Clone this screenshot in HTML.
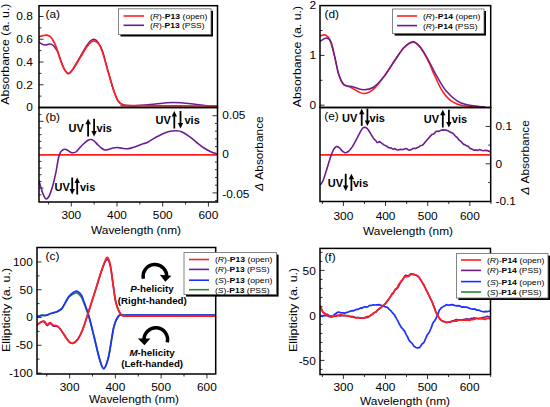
<!DOCTYPE html>
<html><head><meta charset="utf-8"><style>
html,body{margin:0;padding:0;background:#fff;width:550px;height:407px;overflow:hidden}
svg{display:block;font-family:"Liberation Sans",sans-serif}
</style></head><body>
<svg width="550" height="407" viewBox="0 0 550 407">
<defs>
<clipPath id="ca"><rect x="39" y="5.7" width="178.5" height="101.8"/></clipPath>
<clipPath id="cb"><rect x="39" y="107.5" width="178.5" height="94.5"/></clipPath>
<clipPath id="cc"><rect x="37" y="247.5" width="178.7" height="126.5"/></clipPath>
<clipPath id="cd"><rect x="320" y="5.6" width="170.7" height="101.9"/></clipPath>
<clipPath id="ce"><rect x="320" y="107.5" width="170.7" height="94.0"/></clipPath>
<clipPath id="cf"><rect x="320" y="248.4" width="170.5" height="126.1"/></clipPath>
</defs>
<rect width="550" height="407" fill="#fff"/>
<line x1="39" y1="107.5" x2="43.5" y2="107.5" stroke="#333" stroke-width="1.0"/>
<line x1="39" y1="96.125" x2="41.5" y2="96.125" stroke="#333" stroke-width="1.0"/>
<line x1="39" y1="84.75" x2="43.5" y2="84.75" stroke="#333" stroke-width="1.0"/>
<line x1="39" y1="73.375" x2="41.5" y2="73.375" stroke="#333" stroke-width="1.0"/>
<line x1="39" y1="62.0" x2="43.5" y2="62.0" stroke="#333" stroke-width="1.0"/>
<line x1="39" y1="50.625" x2="41.5" y2="50.625" stroke="#333" stroke-width="1.0"/>
<line x1="39" y1="39.25" x2="43.5" y2="39.25" stroke="#333" stroke-width="1.0"/>
<line x1="39" y1="27.875" x2="41.5" y2="27.875" stroke="#333" stroke-width="1.0"/>
<line x1="39" y1="16.5" x2="43.5" y2="16.5" stroke="#333" stroke-width="1.0"/>
<text transform="translate(32.8,111.3) scale(1.1,1)" font-size="10.8" text-anchor="end" font-weight="normal" fill="#000" >0</text>
<text transform="translate(32.8,88.55) scale(1.1,1)" font-size="10.8" text-anchor="end" font-weight="normal" fill="#000" >0.2</text>
<text transform="translate(32.8,65.8) scale(1.1,1)" font-size="10.8" text-anchor="end" font-weight="normal" fill="#000" >0.4</text>
<text transform="translate(32.8,43.05) scale(1.1,1)" font-size="10.8" text-anchor="end" font-weight="normal" fill="#000" >0.6</text>
<text transform="translate(32.8,20.3) scale(1.1,1)" font-size="10.8" text-anchor="end" font-weight="normal" fill="#000" >0.8</text>
<text transform="translate(9,54.2) rotate(-90) scale(1.14,1)" font-size="10.8" text-anchor="middle" font-weight="normal" fill="#000" >Absorbance (a. u.)</text>
<text transform="translate(45.5,17.8) scale(1.1,1)" font-size="10.8" text-anchor="start" font-weight="normal" fill="#000" >(a)</text>
<line x1="39" y1="194.77999999999997" x2="41.5" y2="194.77999999999997" stroke="#333" stroke-width="1.0"/>
<line x1="39" y1="188.1" x2="43.5" y2="188.1" stroke="#333" stroke-width="1.0"/>
<line x1="39" y1="181.42" x2="41.5" y2="181.42" stroke="#333" stroke-width="1.0"/>
<line x1="39" y1="174.73999999999998" x2="41.5" y2="174.73999999999998" stroke="#333" stroke-width="1.0"/>
<line x1="39" y1="168.06" x2="41.5" y2="168.06" stroke="#333" stroke-width="1.0"/>
<line x1="39" y1="161.38" x2="41.5" y2="161.38" stroke="#333" stroke-width="1.0"/>
<line x1="39" y1="154.7" x2="43.5" y2="154.7" stroke="#333" stroke-width="1.0"/>
<line x1="39" y1="148.01999999999998" x2="41.5" y2="148.01999999999998" stroke="#333" stroke-width="1.0"/>
<line x1="39" y1="141.33999999999997" x2="41.5" y2="141.33999999999997" stroke="#333" stroke-width="1.0"/>
<line x1="39" y1="134.66" x2="41.5" y2="134.66" stroke="#333" stroke-width="1.0"/>
<line x1="39" y1="127.97999999999999" x2="41.5" y2="127.97999999999999" stroke="#333" stroke-width="1.0"/>
<line x1="39" y1="121.29999999999998" x2="43.5" y2="121.29999999999998" stroke="#333" stroke-width="1.0"/>
<line x1="39" y1="114.61999999999999" x2="41.5" y2="114.61999999999999" stroke="#333" stroke-width="1.0"/>
<line x1="217.5" y1="200.62" x2="215.0" y2="200.62" stroke="#333" stroke-width="1.0"/>
<line x1="217.5" y1="192.9" x2="212.5" y2="192.9" stroke="#333" stroke-width="1.0"/>
<line x1="217.5" y1="185.18" x2="215.0" y2="185.18" stroke="#333" stroke-width="1.0"/>
<line x1="217.5" y1="177.46" x2="215.0" y2="177.46" stroke="#333" stroke-width="1.0"/>
<line x1="217.5" y1="169.74" x2="215.0" y2="169.74" stroke="#333" stroke-width="1.0"/>
<line x1="217.5" y1="162.02" x2="215.0" y2="162.02" stroke="#333" stroke-width="1.0"/>
<line x1="217.5" y1="154.3" x2="212.5" y2="154.3" stroke="#333" stroke-width="1.0"/>
<line x1="217.5" y1="146.58" x2="215.0" y2="146.58" stroke="#333" stroke-width="1.0"/>
<line x1="217.5" y1="138.86" x2="215.0" y2="138.86" stroke="#333" stroke-width="1.0"/>
<line x1="217.5" y1="131.14000000000001" x2="215.0" y2="131.14000000000001" stroke="#333" stroke-width="1.0"/>
<line x1="217.5" y1="123.42000000000002" x2="215.0" y2="123.42000000000002" stroke="#333" stroke-width="1.0"/>
<line x1="217.5" y1="115.70000000000002" x2="212.5" y2="115.70000000000002" stroke="#333" stroke-width="1.0"/>
<text transform="translate(222.3,119.2) scale(1.1,1)" font-size="10.8" text-anchor="start" font-weight="normal" fill="#000" >0.05</text>
<text transform="translate(222.3,158.0) scale(1.1,1)" font-size="10.8" text-anchor="start" font-weight="normal" fill="#000" >0</text>
<text transform="translate(222.3,197.6) scale(1.1,1)" font-size="10.8" text-anchor="start" font-weight="normal" fill="#000" >-0.05</text>
<line x1="48.449999999999996" y1="202" x2="48.449999999999996" y2="204.5" stroke="#333" stroke-width="1.0"/>
<line x1="71.3" y1="202" x2="71.3" y2="206.5" stroke="#333" stroke-width="1.0"/>
<line x1="94.15" y1="202" x2="94.15" y2="204.5" stroke="#333" stroke-width="1.0"/>
<line x1="117.0" y1="202" x2="117.0" y2="206.5" stroke="#333" stroke-width="1.0"/>
<line x1="139.85" y1="202" x2="139.85" y2="204.5" stroke="#333" stroke-width="1.0"/>
<line x1="162.7" y1="202" x2="162.7" y2="206.5" stroke="#333" stroke-width="1.0"/>
<line x1="185.55" y1="202" x2="185.55" y2="204.5" stroke="#333" stroke-width="1.0"/>
<line x1="208.39999999999998" y1="202" x2="208.39999999999998" y2="206.5" stroke="#333" stroke-width="1.0"/>
<text transform="translate(71.3,219.2) scale(1.1,1)" font-size="10.8" text-anchor="middle" font-weight="normal" fill="#000" >300</text>
<text transform="translate(117.0,219.2) scale(1.1,1)" font-size="10.8" text-anchor="middle" font-weight="normal" fill="#000" >400</text>
<text transform="translate(162.7,219.2) scale(1.1,1)" font-size="10.8" text-anchor="middle" font-weight="normal" fill="#000" >500</text>
<text transform="translate(208.39999999999998,219.2) scale(1.1,1)" font-size="10.8" text-anchor="middle" font-weight="normal" fill="#000" >600</text>
<text transform="translate(136,233.5) scale(1.1,1)" font-size="10.8" text-anchor="middle" font-weight="normal" fill="#000" >Wavelength (nm)</text>
<text transform="translate(263.0,153.6) rotate(-90) scale(1.1,1)" font-size="10.8" text-anchor="middle" font-weight="normal" fill="#000" ><tspan font-style="italic">Δ</tspan> Absorbance</text>
<text transform="translate(45.5,120.8) scale(1.1,1)" font-size="10.8" text-anchor="start" font-weight="normal" fill="#000" >(b)</text>
<line x1="37" y1="373.05" x2="41.5" y2="373.05" stroke="#333" stroke-width="1.0"/>
<line x1="37" y1="359.1625" x2="39.5" y2="359.1625" stroke="#333" stroke-width="1.0"/>
<line x1="37" y1="345.275" x2="41.5" y2="345.275" stroke="#333" stroke-width="1.0"/>
<line x1="37" y1="331.3875" x2="39.5" y2="331.3875" stroke="#333" stroke-width="1.0"/>
<line x1="37" y1="317.5" x2="41.5" y2="317.5" stroke="#333" stroke-width="1.0"/>
<line x1="37" y1="303.6125" x2="39.5" y2="303.6125" stroke="#333" stroke-width="1.0"/>
<line x1="37" y1="289.725" x2="41.5" y2="289.725" stroke="#333" stroke-width="1.0"/>
<line x1="37" y1="275.8375" x2="39.5" y2="275.8375" stroke="#333" stroke-width="1.0"/>
<line x1="37" y1="261.95" x2="41.5" y2="261.95" stroke="#333" stroke-width="1.0"/>
<text transform="translate(32.8,265.75) scale(1.1,1)" font-size="10.8" text-anchor="end" font-weight="normal" fill="#000" >100</text>
<text transform="translate(32.8,293.52500000000003) scale(1.1,1)" font-size="10.8" text-anchor="end" font-weight="normal" fill="#000" >50</text>
<text transform="translate(32.8,321.3) scale(1.1,1)" font-size="10.8" text-anchor="end" font-weight="normal" fill="#000" >0</text>
<text transform="translate(32.8,349.075) scale(1.1,1)" font-size="10.8" text-anchor="end" font-weight="normal" fill="#000" >-50</text>
<text transform="translate(32.8,376.85) scale(1.1,1)" font-size="10.8" text-anchor="end" font-weight="normal" fill="#000" >-100</text>
<line x1="46.714999999999996" y1="374" x2="46.714999999999996" y2="376.5" stroke="#333" stroke-width="1.0"/>
<line x1="69.6" y1="374" x2="69.6" y2="378.5" stroke="#333" stroke-width="1.0"/>
<line x1="92.48499999999999" y1="374" x2="92.48499999999999" y2="376.5" stroke="#333" stroke-width="1.0"/>
<line x1="115.36999999999999" y1="374" x2="115.36999999999999" y2="378.5" stroke="#333" stroke-width="1.0"/>
<line x1="138.255" y1="374" x2="138.255" y2="376.5" stroke="#333" stroke-width="1.0"/>
<line x1="161.14" y1="374" x2="161.14" y2="378.5" stroke="#333" stroke-width="1.0"/>
<line x1="184.02499999999998" y1="374" x2="184.02499999999998" y2="376.5" stroke="#333" stroke-width="1.0"/>
<line x1="206.91" y1="374" x2="206.91" y2="378.5" stroke="#333" stroke-width="1.0"/>
<text transform="translate(69.6,391.3) scale(1.1,1)" font-size="10.8" text-anchor="middle" font-weight="normal" fill="#000" >300</text>
<text transform="translate(115.36999999999999,391.3) scale(1.1,1)" font-size="10.8" text-anchor="middle" font-weight="normal" fill="#000" >400</text>
<text transform="translate(161.14,391.3) scale(1.1,1)" font-size="10.8" text-anchor="middle" font-weight="normal" fill="#000" >500</text>
<text transform="translate(206.91,391.3) scale(1.1,1)" font-size="10.8" text-anchor="middle" font-weight="normal" fill="#000" >600</text>
<text transform="translate(134,403) scale(1.1,1)" font-size="10.8" text-anchor="middle" font-weight="normal" fill="#000" >Wavelength (nm)</text>
<text transform="translate(10.2,310.0) rotate(-90) scale(1.15,1)" font-size="10.8" text-anchor="middle" font-weight="normal" fill="#000" >Ellipticity (a. u.)</text>
<text transform="translate(45.5,260.3) scale(1.1,1)" font-size="10.8" text-anchor="start" font-weight="normal" fill="#000" >(c)</text>
<line x1="320" y1="105.2" x2="324.5" y2="105.2" stroke="#333" stroke-width="1.0"/>
<line x1="320" y1="80.30000000000001" x2="322.5" y2="80.30000000000001" stroke="#333" stroke-width="1.0"/>
<line x1="320" y1="55.400000000000006" x2="324.5" y2="55.400000000000006" stroke="#333" stroke-width="1.0"/>
<line x1="320" y1="30.500000000000014" x2="322.5" y2="30.500000000000014" stroke="#333" stroke-width="1.0"/>
<text transform="translate(316,109.0) scale(1.1,1)" font-size="10.8" text-anchor="end" font-weight="normal" fill="#000" >0</text>
<text transform="translate(316,59.2) scale(1.1,1)" font-size="10.8" text-anchor="end" font-weight="normal" fill="#000" >1</text>
<text transform="translate(316,8.90000000000001) scale(1.1,1)" font-size="10.8" text-anchor="end" font-weight="normal" fill="#000" >2</text>
<text transform="translate(301,56.6) rotate(-90) scale(1.14,1)" font-size="10.8" text-anchor="middle" font-weight="normal" fill="#000" >Absorbance (a. u.)</text>
<text transform="translate(324.5,18) scale(1.1,1)" font-size="10.8" text-anchor="start" font-weight="normal" fill="#000" >(d)</text>
<line x1="490.7" y1="182.47500000000002" x2="488.2" y2="182.47500000000002" stroke="#333" stroke-width="1.0"/>
<line x1="490.7" y1="163.8" x2="485.7" y2="163.8" stroke="#333" stroke-width="1.0"/>
<line x1="490.7" y1="145.125" x2="488.2" y2="145.125" stroke="#333" stroke-width="1.0"/>
<line x1="490.7" y1="126.45000000000002" x2="485.7" y2="126.45000000000002" stroke="#333" stroke-width="1.0"/>
<text transform="translate(495.5,130.25000000000003) scale(1.1,1)" font-size="10.8" text-anchor="start" font-weight="normal" fill="#000" >0.1</text>
<text transform="translate(495.5,167.60000000000002) scale(1.1,1)" font-size="10.8" text-anchor="start" font-weight="normal" fill="#000" >0</text>
<text transform="translate(495.5,204.95000000000002) scale(1.1,1)" font-size="10.8" text-anchor="start" font-weight="normal" fill="#000" >-0.1</text>
<line x1="322.325" y1="201.5" x2="322.325" y2="204.0" stroke="#333" stroke-width="1.0"/>
<line x1="343.4" y1="201.5" x2="343.4" y2="206.0" stroke="#333" stroke-width="1.0"/>
<line x1="364.47499999999997" y1="201.5" x2="364.47499999999997" y2="204.0" stroke="#333" stroke-width="1.0"/>
<line x1="385.54999999999995" y1="201.5" x2="385.54999999999995" y2="206.0" stroke="#333" stroke-width="1.0"/>
<line x1="406.625" y1="201.5" x2="406.625" y2="204.0" stroke="#333" stroke-width="1.0"/>
<line x1="427.7" y1="201.5" x2="427.7" y2="206.0" stroke="#333" stroke-width="1.0"/>
<line x1="448.775" y1="201.5" x2="448.775" y2="204.0" stroke="#333" stroke-width="1.0"/>
<line x1="469.84999999999997" y1="201.5" x2="469.84999999999997" y2="206.0" stroke="#333" stroke-width="1.0"/>
<line x1="490.92499999999995" y1="201.5" x2="490.92499999999995" y2="204.0" stroke="#333" stroke-width="1.0"/>
<text transform="translate(343.4,219.8) scale(1.1,1)" font-size="10.8" text-anchor="middle" font-weight="normal" fill="#000" >300</text>
<text transform="translate(385.54999999999995,219.8) scale(1.1,1)" font-size="10.8" text-anchor="middle" font-weight="normal" fill="#000" >400</text>
<text transform="translate(427.7,219.8) scale(1.1,1)" font-size="10.8" text-anchor="middle" font-weight="normal" fill="#000" >500</text>
<text transform="translate(469.84999999999997,219.8) scale(1.1,1)" font-size="10.8" text-anchor="middle" font-weight="normal" fill="#000" >600</text>
<text transform="translate(408,234.5) scale(1.1,1)" font-size="10.8" text-anchor="middle" font-weight="normal" fill="#000" >Wavelength (nm)</text>
<text transform="translate(529.2,157.5) rotate(-90) scale(1.1,1)" font-size="10.8" text-anchor="middle" font-weight="normal" fill="#000" ><tspan font-style="italic">Δ</tspan> Absorbance</text>
<text transform="translate(324.3,120.3) scale(1.1,1)" font-size="10.8" text-anchor="start" font-weight="normal" fill="#000" >(e)</text>
<line x1="320" y1="369.4" x2="322.5" y2="369.4" stroke="#333" stroke-width="1.0"/>
<line x1="320" y1="360.4" x2="324.5" y2="360.4" stroke="#333" stroke-width="1.0"/>
<line x1="320" y1="351.4" x2="322.5" y2="351.4" stroke="#333" stroke-width="1.0"/>
<line x1="320" y1="342.4" x2="322.5" y2="342.4" stroke="#333" stroke-width="1.0"/>
<line x1="320" y1="333.4" x2="322.5" y2="333.4" stroke="#333" stroke-width="1.0"/>
<line x1="320" y1="324.4" x2="322.5" y2="324.4" stroke="#333" stroke-width="1.0"/>
<line x1="320" y1="315.4" x2="324.5" y2="315.4" stroke="#333" stroke-width="1.0"/>
<line x1="320" y1="306.4" x2="322.5" y2="306.4" stroke="#333" stroke-width="1.0"/>
<line x1="320" y1="297.4" x2="322.5" y2="297.4" stroke="#333" stroke-width="1.0"/>
<line x1="320" y1="288.4" x2="322.5" y2="288.4" stroke="#333" stroke-width="1.0"/>
<line x1="320" y1="279.4" x2="322.5" y2="279.4" stroke="#333" stroke-width="1.0"/>
<line x1="320" y1="270.4" x2="324.5" y2="270.4" stroke="#333" stroke-width="1.0"/>
<line x1="320" y1="261.4" x2="322.5" y2="261.4" stroke="#333" stroke-width="1.0"/>
<line x1="320" y1="252.39999999999998" x2="322.5" y2="252.39999999999998" stroke="#333" stroke-width="1.0"/>
<text transform="translate(315.8,274.59999999999997) scale(1.1,1)" font-size="10.8" text-anchor="end" font-weight="normal" fill="#000" >50</text>
<text transform="translate(315.8,319.59999999999997) scale(1.1,1)" font-size="10.8" text-anchor="end" font-weight="normal" fill="#000" >0</text>
<text transform="translate(315.8,364.59999999999997) scale(1.1,1)" font-size="10.8" text-anchor="end" font-weight="normal" fill="#000" >-50</text>
<line x1="322.36499999999995" y1="374.5" x2="322.36499999999995" y2="377.0" stroke="#333" stroke-width="1.0"/>
<line x1="343.4" y1="374.5" x2="343.4" y2="379.0" stroke="#333" stroke-width="1.0"/>
<line x1="364.435" y1="374.5" x2="364.435" y2="377.0" stroke="#333" stroke-width="1.0"/>
<line x1="385.46999999999997" y1="374.5" x2="385.46999999999997" y2="379.0" stroke="#333" stroke-width="1.0"/>
<line x1="406.505" y1="374.5" x2="406.505" y2="377.0" stroke="#333" stroke-width="1.0"/>
<line x1="427.53999999999996" y1="374.5" x2="427.53999999999996" y2="379.0" stroke="#333" stroke-width="1.0"/>
<line x1="448.575" y1="374.5" x2="448.575" y2="377.0" stroke="#333" stroke-width="1.0"/>
<line x1="469.61" y1="374.5" x2="469.61" y2="379.0" stroke="#333" stroke-width="1.0"/>
<line x1="490.645" y1="374.5" x2="490.645" y2="377.0" stroke="#333" stroke-width="1.0"/>
<text transform="translate(343.4,391) scale(1.1,1)" font-size="10.8" text-anchor="middle" font-weight="normal" fill="#000" >300</text>
<text transform="translate(385.46999999999997,391) scale(1.1,1)" font-size="10.8" text-anchor="middle" font-weight="normal" fill="#000" >400</text>
<text transform="translate(427.53999999999996,391) scale(1.1,1)" font-size="10.8" text-anchor="middle" font-weight="normal" fill="#000" >500</text>
<text transform="translate(469.61,391) scale(1.1,1)" font-size="10.8" text-anchor="middle" font-weight="normal" fill="#000" >600</text>
<text transform="translate(405,404.5) scale(1.1,1)" font-size="10.8" text-anchor="middle" font-weight="normal" fill="#000" >Wavelength (nm)</text>
<text transform="translate(297,309.9) rotate(-90) scale(1.15,1)" font-size="10.8" text-anchor="middle" font-weight="normal" fill="#000" >Ellipticity (a. u.)</text>
<text transform="translate(324.4,261.2) scale(1.1,1)" font-size="10.8" text-anchor="start" font-weight="normal" fill="#000" >(f)</text>
<g clip-path="url(#ca)">
<path d="M39.20,42.10 C39.62,42.42 40.67,43.52 41.70,44.00 C42.73,44.48 44.17,45.00 45.40,45.00 C46.63,45.00 47.98,44.07 49.10,44.00 C50.22,43.93 51.18,44.10 52.10,44.60 C53.02,45.10 53.67,45.77 54.60,47.00 C55.53,48.23 56.78,50.05 57.70,52.00 C58.62,53.95 59.28,56.45 60.10,58.70 C60.92,60.95 61.78,63.58 62.60,65.50 C63.42,67.42 64.08,68.88 65.00,70.20 C65.92,71.52 67.07,73.23 68.10,73.40 C69.13,73.57 70.05,72.52 71.20,71.20 C72.35,69.88 73.42,68.07 75.00,65.50 C76.58,62.93 78.78,59.05 80.70,55.80 C82.62,52.55 84.87,48.50 86.50,46.00 C88.13,43.50 89.22,41.93 90.50,40.80 C91.78,39.67 92.87,38.87 94.20,39.20 C95.53,39.53 97.07,40.67 98.50,42.80 C99.93,44.93 101.45,48.13 102.80,52.00 C104.15,55.87 105.32,61.37 106.60,66.00 C107.88,70.63 109.22,75.42 110.50,79.80 C111.78,84.18 113.03,88.78 114.30,92.30 C115.57,95.82 116.67,98.83 118.10,100.90 C119.53,102.97 120.42,103.88 122.90,104.70 C125.38,105.52 128.48,105.82 133.00,105.80 C137.52,105.78 143.33,105.13 150.00,104.60 C156.67,104.07 165.50,102.67 173.00,102.60 C180.50,102.53 189.00,103.63 195.00,104.20 C201.00,104.77 205.33,105.70 209.00,106.00 C212.67,106.30 215.67,106.00 217.00,106.00" fill="none" stroke="#6c1d8e" stroke-width="1.5" stroke-linejoin="round" stroke-linecap="round" />
<path d="M39.20,36.80 C39.82,36.60 41.67,35.88 42.90,35.60 C44.13,35.32 45.37,34.93 46.60,35.10 C47.83,35.27 49.28,35.83 50.30,36.60 C51.32,37.37 51.88,38.37 52.70,39.70 C53.52,41.03 54.37,42.67 55.20,44.60 C56.03,46.53 56.88,48.95 57.70,51.30 C58.52,53.65 59.28,56.33 60.10,58.70 C60.92,61.07 61.78,63.55 62.60,65.50 C63.42,67.45 64.08,69.03 65.00,70.40 C65.92,71.77 67.07,73.50 68.10,73.70 C69.13,73.90 70.05,72.83 71.20,71.60 C72.35,70.37 73.42,68.77 75.00,66.30 C76.58,63.83 78.78,59.98 80.70,56.80 C82.62,53.62 84.73,49.68 86.50,47.20 C88.27,44.72 89.87,42.92 91.30,41.90 C92.73,40.88 93.82,40.68 95.10,41.10 C96.38,41.52 97.72,42.42 99.00,44.40 C100.28,46.38 101.53,49.33 102.80,53.00 C104.07,56.67 105.32,61.93 106.60,66.40 C107.88,70.87 109.22,75.48 110.50,79.80 C111.78,84.12 113.03,88.78 114.30,92.30 C115.57,95.82 116.67,98.83 118.10,100.90 C119.53,102.97 120.92,103.90 122.90,104.70 C124.88,105.50 114.32,105.48 130.00,105.70 C145.68,105.92 202.50,105.95 217.00,106.00" fill="none" stroke="#ff1f1f" stroke-width="1.7" stroke-linejoin="round" stroke-linecap="round" />
</g>
<line x1="39" y1="154.9" x2="217.5" y2="154.9" stroke="#ff1f1f" stroke-width="1.6"/>
<g clip-path="url(#cb)">
<path d="M39.00,181.10 C39.22,181.82 39.72,183.52 40.30,185.40 C40.88,187.28 41.78,190.42 42.50,192.40 C43.22,194.38 43.97,196.22 44.60,197.30 C45.23,198.38 45.67,198.90 46.30,198.90 C46.93,198.90 47.68,198.38 48.40,197.30 C49.12,196.22 49.78,194.65 50.60,192.40 C51.42,190.15 52.40,187.22 53.30,183.80 C54.20,180.38 55.22,175.78 56.00,171.90 C56.78,168.02 57.42,163.40 58.00,160.50 C58.58,157.60 58.92,156.08 59.50,154.50 C60.08,152.92 60.67,151.87 61.50,151.00 C62.33,150.13 63.50,149.43 64.50,149.30 C65.50,149.17 66.50,149.72 67.50,150.20 C68.50,150.68 69.50,151.77 70.50,152.20 C71.50,152.63 72.50,152.92 73.50,152.80 C74.50,152.68 75.42,152.38 76.50,151.50 C77.58,150.62 78.75,148.83 80.00,147.50 C81.25,146.17 82.67,144.72 84.00,143.50 C85.33,142.28 86.83,140.87 88.00,140.20 C89.17,139.53 90.00,139.40 91.00,139.50 C92.00,139.60 92.83,139.88 94.00,140.80 C95.17,141.72 96.67,143.72 98.00,145.00 C99.33,146.28 100.75,147.67 102.00,148.50 C103.25,149.33 104.33,149.88 105.50,150.00 C106.67,150.12 107.75,149.53 109.00,149.20 C110.25,148.87 111.67,148.28 113.00,148.00 C114.33,147.72 115.50,147.47 117.00,147.50 C118.50,147.53 120.33,147.98 122.00,148.20 C123.67,148.42 125.33,148.87 127.00,148.80 C128.67,148.73 130.17,148.30 132.00,147.80 C133.83,147.30 136.17,146.47 138.00,145.80 C139.83,145.13 141.45,144.35 143.00,143.80 C144.55,143.25 145.38,143.45 147.30,142.50 C149.22,141.55 152.08,139.48 154.50,138.10 C156.92,136.72 159.37,135.30 161.80,134.20 C164.23,133.10 166.67,132.07 169.10,131.50 C171.53,130.93 174.22,130.72 176.40,130.80 C178.58,130.88 180.02,131.03 182.20,132.00 C184.38,132.97 187.08,134.85 189.50,136.60 C191.92,138.35 194.28,140.60 196.70,142.50 C199.12,144.40 201.57,146.43 204.00,148.00 C206.43,149.57 209.12,150.95 211.30,151.90 C213.48,152.85 216.13,153.40 217.10,153.70" fill="none" stroke="#6c1d8e" stroke-width="1.6" stroke-linejoin="round" stroke-linecap="round" />
</g>
<g clip-path="url(#cc)">
<path d="M37.20,316.60 C38.02,316.40 40.67,315.60 42.10,315.40 C43.53,315.20 44.35,315.72 45.80,315.40 C47.25,315.08 48.95,314.12 50.80,313.50 C52.65,312.88 55.07,312.52 56.90,311.70 C58.73,310.88 60.17,310.47 61.80,308.60 C63.43,306.73 65.43,302.52 66.70,300.50 C67.97,298.48 67.80,297.78 69.40,296.50 C71.00,295.22 74.37,292.80 76.30,292.80 C78.23,292.80 79.83,295.05 81.00,296.50 C82.17,297.95 81.98,298.08 83.30,301.50 C84.62,304.92 87.08,311.03 88.90,317.00 C90.72,322.97 92.43,330.33 94.20,337.30 C95.97,344.27 97.92,353.58 99.50,358.80 C101.08,364.02 102.20,368.90 103.70,368.60 C105.20,368.30 106.80,364.02 108.50,357.00 C110.20,349.98 112.25,333.30 113.90,326.50 C115.55,319.70 116.92,318.10 118.40,316.20 C119.88,314.30 119.20,315.28 122.80,315.10 C126.40,314.92 124.63,315.10 140.00,315.10 C155.37,315.10 202.50,315.10 215.00,315.10" fill="none" stroke="#2d8a2d" stroke-width="1.7" stroke-linejoin="round" stroke-linecap="round" />
<path d="M37.20,316.60 C38.02,316.40 40.67,315.60 42.10,315.40 C43.53,315.20 44.35,315.72 45.80,315.40 C47.25,315.08 48.95,314.12 50.80,313.50 C52.65,312.88 55.07,312.52 56.90,311.70 C58.73,310.88 60.17,310.55 61.80,308.60 C63.43,306.65 65.43,302.13 66.70,300.00 C67.97,297.87 67.80,297.28 69.40,295.80 C71.00,294.32 74.37,291.32 76.30,291.10 C78.23,290.88 79.83,293.02 81.00,294.50 C82.17,295.98 81.98,296.42 83.30,300.00 C84.62,303.58 87.08,309.78 88.90,316.00 C90.72,322.22 92.43,330.17 94.20,337.30 C95.97,344.43 97.92,353.58 99.50,358.80 C101.08,364.02 102.20,368.90 103.70,368.60 C105.20,368.30 106.80,364.02 108.50,357.00 C110.20,349.98 112.25,333.30 113.90,326.50 C115.55,319.70 116.92,318.10 118.40,316.20 C119.88,314.30 119.20,315.28 122.80,315.10 C126.40,314.92 124.63,315.10 140.00,315.10 C155.37,315.10 202.50,315.10 215.00,315.10" fill="none" stroke="#1f2fff" stroke-width="1.7" stroke-linejoin="round" stroke-linecap="round" />
<path d="M37.20,324.60 C38.02,324.08 40.87,321.93 42.10,321.50 C43.33,321.07 43.77,321.33 44.60,322.00 C45.43,322.67 46.18,325.25 47.10,325.50 C48.02,325.75 49.08,323.42 50.10,323.50 C51.12,323.58 52.07,325.53 53.20,326.00 C54.33,326.47 55.67,325.72 56.90,326.30 C58.13,326.88 59.17,327.73 60.60,329.50 C62.03,331.27 64.07,334.85 65.50,336.90 C66.93,338.95 67.97,340.73 69.20,341.80 C70.43,342.87 71.47,343.72 72.90,343.30 C74.33,342.88 76.17,341.60 77.80,339.30 C79.43,337.00 81.07,333.58 82.70,329.50 C84.33,325.42 86.13,319.30 87.60,314.80 C89.07,310.30 90.23,306.47 91.50,302.50 C92.77,298.53 93.43,296.57 95.20,291.00 C96.97,285.43 100.15,274.35 102.10,269.10 C104.05,263.85 105.53,260.02 106.90,259.50 C108.27,258.98 109.23,261.58 110.30,266.00 C111.37,270.42 112.35,279.83 113.30,286.00 C114.25,292.17 114.72,298.25 116.00,303.00 C117.28,307.75 119.33,312.33 121.00,314.50 C122.67,316.67 122.83,315.73 126.00,316.00 C129.17,316.27 125.17,316.08 140.00,316.10 C154.83,316.12 202.50,316.10 215.00,316.10" fill="none" stroke="#6c1d8e" stroke-width="1.7" stroke-linejoin="round" stroke-linecap="round" />
<path d="M37.20,324.60 C38.02,324.08 40.87,322.02 42.10,321.50 C43.33,320.98 43.77,320.98 44.60,321.50 C45.43,322.02 46.18,324.40 47.10,324.60 C48.02,324.80 49.08,322.60 50.10,322.70 C51.12,322.80 52.07,324.68 53.20,325.20 C54.33,325.72 55.67,325.08 56.90,325.80 C58.13,326.52 59.17,327.65 60.60,329.50 C62.03,331.35 64.07,334.85 65.50,336.90 C66.93,338.95 67.97,340.73 69.20,341.80 C70.43,342.87 71.47,343.72 72.90,343.30 C74.33,342.88 76.17,341.60 77.80,339.30 C79.43,337.00 81.07,333.58 82.70,329.50 C84.33,325.42 86.13,319.30 87.60,314.80 C89.07,310.30 90.23,306.47 91.50,302.50 C92.77,298.53 93.43,296.57 95.20,291.00 C96.97,285.43 100.15,274.70 102.10,269.10 C104.05,263.50 105.53,258.08 106.90,257.40 C108.27,256.72 109.23,260.23 110.30,265.00 C111.37,269.77 112.35,279.67 113.30,286.00 C114.25,292.33 114.72,298.25 116.00,303.00 C117.28,307.75 119.33,312.33 121.00,314.50 C122.67,316.67 122.83,315.73 126.00,316.00 C129.17,316.27 125.17,316.08 140.00,316.10 C154.83,316.12 202.50,316.10 215.00,316.10" fill="none" stroke="#ff1f1f" stroke-width="1.7" stroke-linejoin="round" stroke-linecap="round" />
</g>
<g clip-path="url(#cd)">
<path d="M320.40,35.90 C321.25,35.75 323.92,34.33 325.50,35.00 C327.08,35.67 328.43,36.50 329.90,39.90 C331.37,43.30 332.83,49.68 334.30,55.40 C335.77,61.12 337.22,69.40 338.70,74.20 C340.18,79.00 341.17,81.98 343.20,84.20 C345.23,86.42 347.58,85.95 350.90,87.50 C354.22,89.05 359.42,93.13 363.10,93.50 C366.78,93.87 369.50,92.55 373.00,89.70 C376.50,86.85 380.40,81.38 384.10,76.40 C387.80,71.42 391.88,64.58 395.20,59.80 C398.52,55.02 401.07,50.63 404.00,47.70 C406.93,44.77 410.18,42.37 412.80,42.20 C415.42,42.03 417.25,43.82 419.70,46.70 C422.15,49.58 424.88,54.42 427.50,59.50 C430.12,64.58 432.93,71.95 435.40,77.20 C437.87,82.45 439.68,87.07 442.30,91.00 C444.92,94.93 447.65,98.35 451.10,100.80 C454.55,103.25 457.42,104.65 463.00,105.70 C468.58,106.75 481.00,106.87 484.60,107.10" fill="none" stroke="#ff1f1f" stroke-width="1.6" stroke-linejoin="round" stroke-linecap="round" />
<path d="M320.40,41.00 C321.43,40.52 324.83,37.92 326.60,38.10 C328.37,38.28 329.68,39.22 331.00,42.10 C332.32,44.98 333.22,50.05 334.50,55.40 C335.78,60.75 337.07,69.28 338.70,74.20 C340.33,79.12 342.08,82.85 344.30,84.90 C346.52,86.95 348.87,85.70 352.00,86.50 C355.13,87.30 359.60,89.53 363.10,89.70 C366.60,89.87 369.50,89.72 373.00,87.50 C376.50,85.28 380.40,81.02 384.10,76.40 C387.80,71.78 391.88,64.62 395.20,59.80 C398.52,54.98 401.07,50.50 404.00,47.50 C406.93,44.50 410.18,42.00 412.80,41.80 C415.42,41.60 417.25,43.52 419.70,46.30 C422.15,49.08 424.55,53.35 427.50,58.50 C430.45,63.65 434.28,71.78 437.40,77.20 C440.52,82.62 442.93,87.07 446.20,91.00 C449.47,94.93 453.70,98.55 457.00,100.80 C460.30,103.05 461.40,103.45 466.00,104.50 C470.60,105.55 481.50,106.67 484.60,107.10" fill="none" stroke="#6c1d8e" stroke-width="1.5" stroke-linejoin="round" stroke-linecap="round" />
</g>
<line x1="320" y1="154.9" x2="490.7" y2="154.9" stroke="#ff1f1f" stroke-width="1.6"/>
<g clip-path="url(#ce)">
<path d="M320.60,184.50L321.05,183.87L321.69,183.00L322.43,181.80L323.20,180.20L323.55,179.30L323.92,178.26L324.30,177.11L324.70,175.89L325.10,174.63L325.50,173.35L325.88,172.10L326.25,170.91L326.60,169.80L327.01,168.48L327.40,167.21L327.77,165.99L328.13,164.79L328.48,163.62L328.84,162.46L329.20,161.30L329.63,159.93L330.07,158.55L330.51,157.19L330.94,155.87L331.37,154.64L331.80,153.50L332.43,151.96L333.05,150.58L333.67,149.38L334.30,148.40L335.59,147.11L336.90,146.60L338.20,146.89L339.50,147.80L340.34,148.74L341.17,149.89L342.10,150.90L343.17,151.73L344.34,152.41L345.50,152.70L346.63,152.46L347.76,151.82L348.90,150.90L349.77,150.04L350.65,149.01L351.53,147.85L352.40,146.60L353.08,145.52L353.76,144.36L354.44,143.14L355.12,141.88L355.80,140.60L356.38,139.49L356.98,138.33L357.58,137.15L358.17,135.98L358.74,134.85L359.30,133.80L359.95,132.60L360.58,131.42L361.19,130.33L361.77,129.37L362.30,128.60L363.37,127.51L364.40,127.20L365.64,127.40L367.00,128.30L367.75,129.16L368.54,130.28L369.31,131.46L370.00,132.70L370.74,133.51L371.37,135.13L372.00,135.96L372.63,136.84L373.26,137.87L374.00,138.93L374.89,139.97L375.89,140.69L377.00,142.57L378.26,142.27L379.63,141.55L381.00,142.73L382.30,143.69L383.59,144.70L385.00,145.36L386.18,145.95L387.44,146.77L388.73,147.73L390.00,147.86L391.30,147.99L392.62,149.01L393.89,149.08L395.00,148.59L396.50,149.83L398.00,150.06L399.13,149.65L400.44,149.26L401.77,149.65L403.00,149.43L404.43,149.07L405.74,148.63L407.00,148.75L408.24,149.84L409.43,150.16L410.50,149.81L411.72,149.48L413.00,148.44L414.29,148.39L415.74,148.44L417.00,147.83L418.09,147.35L419.20,146.77L420.11,145.76L421.18,145.53L422.30,145.31L423.40,144.31L424.45,143.10L425.50,141.87L426.55,140.46L427.60,139.19L428.62,138.16L429.61,136.94L430.65,135.95L431.80,134.54L432.83,134.29L433.94,133.72L435.09,132.63L436.26,131.29L437.40,131.23L438.82,131.38L440.24,130.61L441.65,130.16L443.00,129.85L444.31,130.18L445.58,129.84L446.79,130.52L447.90,130.58L449.09,131.42L450.13,131.95L451.40,132.74L452.21,132.78L453.11,133.49L454.07,134.46L455.06,135.79L456.04,136.80L457.00,137.37L457.93,138.54L458.87,139.90L459.80,140.67L460.73,141.40L461.67,142.18L462.60,143.41L463.72,144.38L464.84,144.60L465.96,145.47L467.08,145.89L468.20,146.30L469.32,147.66L470.44,148.62L471.56,148.84L472.68,149.48L473.80,150.12L475.20,150.05L476.60,150.11L478.00,150.39L479.40,149.60L480.79,150.03L482.17,150.46L483.57,150.67L485.00,150.14L486.27,150.60L487.66,150.54L489.01,151.19L490.18,151.67L491.00,151.83" fill="none" stroke="#6c1d8e" stroke-width="1.6" stroke-linejoin="round" stroke-linecap="round"/>
</g>
<g clip-path="url(#cf)">
<path d="M320.20,316.35L321.17,316.03L322.56,316.29L324.12,315.50L325.60,315.70L326.94,315.38L328.28,316.41L329.65,316.77L331.10,317.05L332.14,316.30L333.23,315.70L334.35,314.73L335.47,313.67L336.56,313.09L337.60,312.27L339.00,312.13L340.28,312.64L341.60,312.89L343.10,312.78L344.24,313.34L345.47,312.91L346.76,312.33L348.08,312.06L349.40,311.55L350.70,311.12L351.97,310.68L353.22,310.91L354.48,310.23L355.76,309.66L357.06,309.28L358.40,309.31L359.56,308.58L360.73,307.90L361.90,308.31L363.11,307.27L364.37,306.86L365.69,306.82L367.10,307.17L368.30,306.35L369.61,305.31L370.99,305.51L372.41,305.18L373.83,304.94L375.22,304.99L376.53,304.91L377.74,304.86L378.80,304.64L380.38,305.13L381.65,305.67L382.73,305.76L383.72,305.87L384.70,306.49L385.86,307.05L386.89,307.20L387.89,307.83L389.00,309.19L389.83,309.87L390.70,310.63L391.61,311.70L392.52,312.73L393.42,313.84L394.30,314.42L394.93,316.09L395.54,317.02L396.14,317.67L396.74,319.05L397.34,320.11L397.97,321.10L398.61,322.47L399.30,324.11L399.95,324.96L400.65,326.24L401.37,327.66L402.10,328.03L402.85,328.87L403.58,330.22L404.29,330.72L404.97,331.87L405.60,333.42L406.33,334.93L407.00,336.17L407.62,336.64L408.23,338.64L408.84,339.73L409.49,340.86L410.20,341.86L410.97,342.24L411.79,343.03L412.64,344.00L413.50,345.88L414.38,346.45L415.25,347.12L416.10,347.52L417.27,347.95L418.44,347.89L419.60,347.36L420.79,346.00L422.00,343.90L422.57,343.65L423.16,343.09L423.76,342.56L424.37,341.35L424.98,339.97L425.59,338.94L426.19,337.24L426.78,335.89L427.35,334.66L427.89,333.90L428.40,333.65L429.06,332.42L429.67,331.35L430.24,330.01L430.79,328.78L431.33,327.41L431.85,326.21L432.37,324.43L432.90,323.29L433.52,321.99L434.15,321.34L434.77,320.42L435.38,319.55L435.96,318.71L436.51,317.25L437.00,316.41L437.56,315.48L437.99,313.92L438.38,312.93L438.83,311.60L439.40,310.02L440.31,309.05L441.36,307.84L442.50,307.11L443.70,306.26L444.94,305.78L446.24,304.57L447.65,305.04L449.20,305.14L450.38,304.83L451.70,304.60L453.07,304.88L454.43,305.37L455.69,305.70L456.80,305.95L458.43,305.62L459.70,305.82L461.20,306.84L462.33,307.14L463.54,306.89L464.83,307.05L466.22,307.08L467.70,307.35L468.86,308.22L470.11,308.41L471.43,309.03L472.77,309.21L474.09,308.90L475.34,309.07L476.50,310.16L477.93,310.10L479.21,310.15L480.43,311.02L481.67,311.30L483.00,311.49L484.29,312.02L485.73,311.35L487.21,311.59L488.59,311.27L489.76,310.97L490.60,310.97" fill="none" stroke="#1f2fff" stroke-width="1.7" stroke-linejoin="round" stroke-linecap="round"/>
<path d="M320.20,306.55L320.60,306.90L321.17,308.21L321.81,309.87L322.40,311.58L323.31,312.76L324.50,313.10L325.84,314.02L327.43,314.34L328.90,315.40L330.35,315.88L332.20,316.72L333.22,316.45L334.41,315.94L335.73,315.41L337.10,315.36L338.48,315.54L339.80,315.88L341.10,315.84L342.44,315.54L343.79,315.77L345.10,315.36L346.35,315.74L347.50,315.63L349.01,316.35L350.34,316.72L351.60,316.86L352.90,316.63L354.27,317.10L355.65,317.48L357.03,317.54L358.40,317.58L359.75,318.16L361.10,318.00L362.45,318.09L363.80,318.31L365.20,317.40L366.62,317.62L368.01,317.29L369.30,316.35L370.47,315.41L371.56,314.45L372.59,314.21L373.60,312.72L374.77,312.50L375.89,311.79L377.40,310.36L378.14,309.67L378.98,308.99L379.88,308.29L380.82,307.84L381.80,306.68L382.79,306.17L383.76,305.42L384.70,304.18L385.44,303.46L386.17,302.30L386.91,301.39L387.65,300.57L388.39,300.11L389.14,298.83L389.88,297.62L390.62,296.54L391.36,295.42L392.10,294.09L392.85,293.76L393.62,292.38L394.39,291.12L395.17,289.89L395.94,289.14L396.71,288.95L397.45,288.45L398.17,287.15L398.85,285.82L399.50,284.58L400.36,282.82L401.17,281.79L401.92,280.48L402.63,279.94L403.31,278.57L403.97,277.28L404.60,276.09L405.94,275.11L407.12,275.72L408.30,275.89L409.48,274.90L410.66,273.79L412.00,273.76L413.19,273.92L414.51,274.49L415.84,275.13L417.10,275.72L418.02,276.07L418.91,277.29L419.77,278.50L420.62,279.78L421.50,281.35L422.13,282.49L422.74,283.17L423.35,284.37L423.97,284.75L424.61,286.37L425.28,287.71L426.00,289.47L426.49,290.64L427.01,291.23L427.55,292.31L428.11,293.83L428.67,294.74L429.24,295.96L429.81,296.98L430.36,298.44L430.90,299.68L431.41,300.53L431.90,301.27L432.45,302.13L432.98,304.10L433.48,305.41L433.96,306.63L434.43,307.89L434.89,309.00L435.35,310.58L435.82,311.91L436.30,312.20L437.02,313.83L437.71,315.29L438.41,316.42L439.12,317.57L439.88,319.04L440.70,319.77L441.76,320.81L442.88,321.54L444.06,321.31L445.30,322.21L446.60,322.27L447.75,322.04L448.96,322.08L450.22,322.36L451.49,321.45L452.76,320.82L454.00,320.69L455.16,319.92L456.24,319.59L457.31,319.67L458.45,319.87L459.72,319.85L461.20,319.86L462.22,319.95L463.35,319.49L464.55,319.21L465.81,319.01L467.11,318.85L468.41,319.15L469.69,319.22L470.93,318.33L472.11,318.53L473.20,318.13L474.62,317.79L475.93,318.25L477.16,318.46L478.34,318.48L479.51,318.28L480.69,318.45L481.90,317.60L483.22,317.64L484.64,317.15L486.09,316.82L487.48,316.27L488.75,316.87L489.81,317.28L490.60,317.24" fill="none" stroke="#6c1d8e" stroke-width="1.6" stroke-linejoin="round" stroke-linecap="round"/>
<path d="M320.20,306.32L320.60,307.45L321.17,308.71L321.81,310.05L322.40,310.96L323.31,312.33L324.50,313.67L325.84,314.39L327.43,315.23L328.90,315.64L330.35,316.23L332.20,316.45L333.22,315.83L334.41,316.12L335.73,316.12L337.10,316.05L338.48,315.31L339.80,314.87L341.10,314.88L342.44,315.05L343.79,315.42L345.10,315.57L346.35,315.87L347.50,315.74L349.01,316.06L350.34,316.37L351.60,316.34L352.90,317.14L354.27,317.41L355.65,317.92L357.03,317.78L358.40,317.69L359.75,317.74L361.10,317.83L362.45,318.05L363.80,317.94L365.20,317.49L366.62,316.85L368.01,316.37L369.30,316.36L370.47,315.46L371.56,314.92L372.59,314.33L373.60,313.12L374.77,312.47L375.89,312.11L377.40,310.15L378.14,309.61L378.98,309.03L379.88,308.13L380.82,307.63L381.80,306.79L382.79,305.47L383.76,304.95L384.70,304.18L385.44,303.55L386.17,302.95L386.91,301.87L387.65,300.75L388.39,299.25L389.14,298.51L389.88,297.29L390.62,296.19L391.36,294.89L392.10,293.80L392.85,292.87L393.62,292.41L394.39,290.71L395.17,289.42L395.94,288.72L396.71,288.24L397.45,287.29L398.17,285.59L398.85,284.02L399.50,283.61L400.36,282.32L401.17,280.93L401.92,280.28L402.63,279.52L403.31,278.45L403.97,277.58L404.60,276.95L405.94,276.64L407.12,276.64L408.30,276.49L409.48,275.78L410.66,274.30L412.00,274.37L413.19,274.68L414.51,275.04L415.84,274.88L417.10,275.61L418.02,276.78L418.91,277.13L419.77,278.32L420.62,279.92L421.50,280.76L422.13,282.34L422.74,283.40L423.35,284.28L423.97,285.45L424.61,286.78L425.28,288.00L426.00,289.68L426.49,290.27L427.01,291.17L427.55,292.62L428.11,293.69L428.67,294.55L429.24,296.11L429.81,297.70L430.36,298.55L430.90,299.25L431.41,300.48L431.90,301.62L432.45,302.92L432.98,304.74L433.48,305.62L433.96,307.34L434.43,308.10L434.89,309.16L435.35,310.66L435.82,312.10L436.30,313.25L437.02,314.58L437.71,315.75L438.41,316.84L439.12,317.96L439.88,318.71L440.70,319.56L441.72,320.49L442.75,321.04L443.86,321.70L445.12,322.07L446.60,322.72L447.66,322.51L448.83,322.05L450.08,321.69L451.39,321.46L452.73,321.49L454.10,321.04L455.46,320.92L456.80,321.25L457.98,320.11L459.18,319.84L460.38,320.06L461.60,320.22L462.82,320.24L464.04,320.02L465.26,320.19L466.49,320.15L467.70,319.84L468.91,320.50L470.10,320.23L471.29,319.75L472.48,319.55L473.68,319.35L474.89,319.24L476.10,318.34L477.34,318.43L478.60,318.91L479.81,318.53L481.12,318.60L482.50,318.93L483.90,319.08L485.28,319.34L486.61,318.52L487.85,318.42L488.95,318.35L489.88,318.59L490.60,318.86" fill="none" stroke="#ff1f1f" stroke-width="1.7" stroke-linejoin="round" stroke-linecap="round"/>
</g>
<rect x="39" y="5.7" width="178.5" height="101.8" fill="none" stroke="#000" stroke-width="1.5"/>
<rect x="39" y="107.5" width="178.5" height="94.5" fill="none" stroke="#000" stroke-width="1.5"/>
<rect x="37" y="247.5" width="178.7" height="126.5" fill="none" stroke="#000" stroke-width="1.5"/>
<rect x="320" y="5.6" width="170.7" height="101.9" fill="none" stroke="#000" stroke-width="1.5"/>
<rect x="320" y="107.5" width="170.7" height="94.0" fill="none" stroke="#000" stroke-width="1.5"/>
<rect x="320" y="248.4" width="170.5" height="126.1" fill="none" stroke="#000" stroke-width="1.5"/>
<rect x="120.5" y="10.8" width="92.5" height="25.7" fill="#000"/>
<rect x="118.5" y="8.8" width="92.5" height="25.7" fill="#fff" stroke="#666" stroke-width="0.8"/>
<line x1="123.5" y1="16" x2="144" y2="16" stroke="#ff1f1f" stroke-width="1.6"/>
<text x="150" y="18.9" font-size="8.1" fill="#000" textLength="57.4" lengthAdjust="spacingAndGlyphs">(<tspan font-style="italic">R</tspan>)-<tspan font-weight="bold">P13</tspan> (open)</text>
<line x1="123.5" y1="25.3" x2="144" y2="25.3" stroke="#6c1d8e" stroke-width="1.6"/>
<text x="150" y="28.2" font-size="8.1" fill="#000" textLength="54.6" lengthAdjust="spacingAndGlyphs">(<tspan font-style="italic">R</tspan>)-<tspan font-weight="bold">P13</tspan> (PSS)</text>
<rect x="394.6" y="11" width="91.39999999999998" height="24.6" fill="#000"/>
<rect x="392.6" y="9" width="91.39999999999998" height="24.6" fill="#fff" stroke="#666" stroke-width="0.8"/>
<line x1="397" y1="16" x2="417" y2="16" stroke="#ff1f1f" stroke-width="1.6"/>
<text x="423" y="18.9" font-size="8.1" fill="#000" textLength="57.4" lengthAdjust="spacingAndGlyphs">(<tspan font-style="italic">R</tspan>)-<tspan font-weight="bold">P14</tspan> (open)</text>
<line x1="397" y1="25.6" x2="417" y2="25.6" stroke="#6c1d8e" stroke-width="1.6"/>
<text x="423" y="28.5" font-size="8.1" fill="#000" textLength="54.6" lengthAdjust="spacingAndGlyphs">(<tspan font-style="italic">R</tspan>)-<tspan font-weight="bold">P14</tspan> (PSS)</text>
<rect x="186" y="254.6" width="92.60000000000002" height="42.00000000000003" fill="#000"/>
<rect x="184" y="252.6" width="92.60000000000002" height="42.00000000000003" fill="#fff" stroke="#666" stroke-width="0.8"/>
<line x1="189" y1="259.5" x2="209" y2="259.5" stroke="#ff1f1f" stroke-width="1.6"/>
<text x="215" y="262.4" font-size="8.1" fill="#000" textLength="57.4" lengthAdjust="spacingAndGlyphs">(<tspan font-style="italic">R</tspan>)-<tspan font-weight="bold">P13</tspan> (open)</text>
<line x1="189" y1="269.4" x2="209" y2="269.4" stroke="#6c1d8e" stroke-width="1.6"/>
<text x="215" y="272.29999999999995" font-size="8.1" fill="#000" textLength="54.6" lengthAdjust="spacingAndGlyphs">(<tspan font-style="italic">R</tspan>)-<tspan font-weight="bold">P13</tspan> (PSS)</text>
<line x1="189" y1="280.2" x2="209" y2="280.2" stroke="#1f2fff" stroke-width="1.6"/>
<text x="215" y="283.09999999999997" font-size="8.1" fill="#000" textLength="57.4" lengthAdjust="spacingAndGlyphs">(<tspan font-style="italic">S</tspan>)-<tspan font-weight="bold">P13</tspan> (open)</text>
<line x1="189" y1="289.7" x2="209" y2="289.7" stroke="#2d8a2d" stroke-width="1.6"/>
<text x="215" y="292.59999999999997" font-size="8.1" fill="#000" textLength="54.6" lengthAdjust="spacingAndGlyphs">(<tspan font-style="italic">S</tspan>)-<tspan font-weight="bold">P13</tspan> (PSS)</text>
<rect x="458.4" y="255.6" width="91.60000000000002" height="44.400000000000006" fill="#000"/>
<rect x="456.4" y="253.6" width="91.60000000000002" height="44.400000000000006" fill="#fff" stroke="#666" stroke-width="0.8"/>
<line x1="461" y1="260" x2="481" y2="260" stroke="#ff1f1f" stroke-width="1.6"/>
<text x="487" y="262.9" font-size="8.1" fill="#000" textLength="57.4" lengthAdjust="spacingAndGlyphs">(<tspan font-style="italic">R</tspan>)-<tspan font-weight="bold">P14</tspan> (open)</text>
<line x1="461" y1="270.4" x2="481" y2="270.4" stroke="#6c1d8e" stroke-width="1.6"/>
<text x="487" y="273.29999999999995" font-size="8.1" fill="#000" textLength="54.6" lengthAdjust="spacingAndGlyphs">(<tspan font-style="italic">R</tspan>)-<tspan font-weight="bold">P14</tspan> (PSS)</text>
<line x1="461" y1="281.6" x2="481" y2="281.6" stroke="#1f2fff" stroke-width="1.6"/>
<text x="487" y="284.5" font-size="8.1" fill="#000" textLength="57.4" lengthAdjust="spacingAndGlyphs">(<tspan font-style="italic">S</tspan>)-<tspan font-weight="bold">P14</tspan> (open)</text>
<line x1="461" y1="292" x2="481" y2="292" stroke="#2d8a2d" stroke-width="1.6"/>
<text x="487" y="294.9" font-size="8.1" fill="#000" textLength="54.6" lengthAdjust="spacingAndGlyphs">(<tspan font-style="italic">S</tspan>)-<tspan font-weight="bold">P14</tspan> (PSS)</text>
<text transform="translate(68.6,132.2)" font-size="11" text-anchor="start" font-weight="bold" fill="#000" >UV</text>
<text transform="translate(96.6,132.2)" font-size="11" text-anchor="start" font-weight="bold" fill="#000" >vis</text>
<line x1="88.1" y1="122.8" x2="88.1" y2="136.6" stroke="#000" stroke-width="1.8"/>
<path d="M85.39999999999999,124.3 L88.1,118.8 L90.8,124.3 Z" fill="#000"/>
<line x1="94.1" y1="118.8" x2="94.1" y2="132.6" stroke="#000" stroke-width="1.8"/>
<path d="M91.39999999999999,131.1 L94.1,136.6 L96.8,131.1 Z" fill="#000"/>
<text transform="translate(155.5,124)" font-size="11" text-anchor="start" font-weight="bold" fill="#000" >UV</text>
<text transform="translate(184.5,124)" font-size="11" text-anchor="start" font-weight="bold" fill="#000" >vis</text>
<line x1="174.3" y1="115" x2="174.3" y2="128.5" stroke="#000" stroke-width="1.8"/>
<path d="M171.60000000000002,116.5 L174.3,111 L177.0,116.5 Z" fill="#000"/>
<line x1="180.5" y1="111" x2="180.5" y2="124.5" stroke="#000" stroke-width="1.8"/>
<path d="M177.8,123.0 L180.5,128.5 L183.2,123.0 Z" fill="#000"/>
<text transform="translate(54.5,190.5)" font-size="11" text-anchor="start" font-weight="bold" fill="#000" >UV</text>
<text transform="translate(80,190.5)" font-size="11" text-anchor="start" font-weight="bold" fill="#000" >vis</text>
<line x1="72.2" y1="177.5" x2="72.2" y2="190.5" stroke="#000" stroke-width="1.8"/>
<path d="M69.5,189.0 L72.2,194.5 L74.9,189.0 Z" fill="#000"/>
<line x1="77.2" y1="181.5" x2="77.2" y2="194.5" stroke="#000" stroke-width="1.8"/>
<path d="M74.5,183.0 L77.2,177.5 L79.9,183.0 Z" fill="#000"/>
<text transform="translate(342,122.2)" font-size="11" text-anchor="start" font-weight="bold" fill="#000" >UV</text>
<text transform="translate(369.6,122.2)" font-size="11" text-anchor="start" font-weight="bold" fill="#000" >vis</text>
<line x1="361.7" y1="112.7" x2="361.7" y2="125.9" stroke="#000" stroke-width="1.8"/>
<path d="M359.0,114.2 L361.7,108.7 L364.4,114.2 Z" fill="#000"/>
<line x1="367.4" y1="108.7" x2="367.4" y2="121.9" stroke="#000" stroke-width="1.8"/>
<path d="M364.7,120.4 L367.4,125.9 L370.09999999999997,120.4 Z" fill="#000"/>
<text transform="translate(423.8,123.1)" font-size="11" text-anchor="start" font-weight="bold" fill="#000" >UV</text>
<text transform="translate(451.8,123.1)" font-size="11" text-anchor="start" font-weight="bold" fill="#000" >vis</text>
<line x1="442.8" y1="113.8" x2="442.8" y2="127.5" stroke="#000" stroke-width="1.8"/>
<path d="M440.1,115.3 L442.8,109.8 L445.5,115.3 Z" fill="#000"/>
<line x1="448.9" y1="109.8" x2="448.9" y2="123.5" stroke="#000" stroke-width="1.8"/>
<path d="M446.2,122.0 L448.9,127.5 L451.59999999999997,122.0 Z" fill="#000"/>
<text transform="translate(327.8,187)" font-size="11" text-anchor="start" font-weight="bold" fill="#000" >UV</text>
<text transform="translate(353,187)" font-size="11" text-anchor="start" font-weight="bold" fill="#000" >vis</text>
<line x1="345.7" y1="173.8" x2="345.7" y2="187" stroke="#000" stroke-width="1.8"/>
<path d="M343.0,185.5 L345.7,191 L348.4,185.5 Z" fill="#000"/>
<line x1="351.4" y1="177.8" x2="351.4" y2="191" stroke="#000" stroke-width="1.8"/>
<path d="M348.7,179.3 L351.4,173.8 L354.09999999999997,179.3 Z" fill="#000"/>
<text transform="translate(152,292.2)" font-size="9.8" text-anchor="middle" font-weight="bold" fill="#000" ><tspan font-style="italic">P</tspan>-helicity</text>
<text transform="translate(152.3,303.6)" font-size="9.7" text-anchor="middle" font-weight="bold" fill="#000" >(Right-handed)</text>
<text transform="translate(152,356.1)" font-size="9.8" text-anchor="middle" font-weight="bold" fill="#000" ><tspan font-style="italic">M</tspan>-helicity</text>
<text transform="translate(152.1,367.3)" font-size="9.7" text-anchor="middle" font-weight="bold" fill="#000" >(Left-handed)</text>
<path d="M143.36,278.75 A11.8,11.8 0 1 1 166.67,277.12" fill="none" stroke="#000" stroke-width="3.5"/>
<path d="M159.8,274.8 L171.4,275.8 L165.3,281.8 Z" fill="#000"/>
<path d="M167.25,342.45 A11.8,11.8 0 1 0 144.03,340.42" fill="none" stroke="#000" stroke-width="3.5"/>
<path d="M137.8,338.6 L150.4,338.6 L144.5,345.2 Z" fill="#000"/>
</svg></body></html>
